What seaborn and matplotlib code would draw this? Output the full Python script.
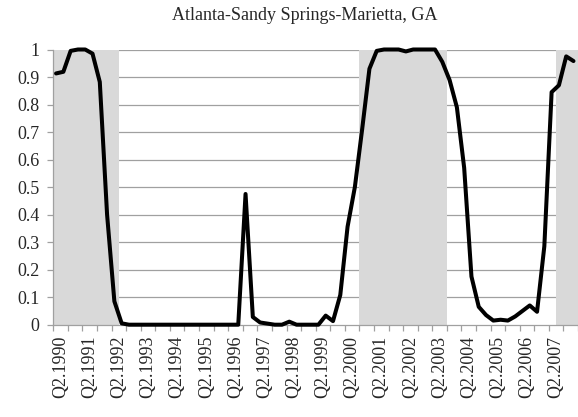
import matplotlib
matplotlib.use("Agg")
import matplotlib.pyplot as plt
import seaborn as sns
import pandas as pd
import numpy as np

# ---- data ----
years = list(range(1990, 2008))
quarters = [f"Q{q}.{y}" for y in years for q in (1, 2, 3, 4)]
values = [0.913, 0.919, 0.995, 1.0, 1.0, 0.985, 0.882, 0.40, 0.085, 0.005,
          0, 0, 0, 0, 0, 0, 0, 0, 0, 0, 0, 0, 0, 0, 0, 0,
          0.475, 0.028, 0.008, 0.004, 0.0, 0.0, 0.011, 0.0, 0.0, 0.0, 0.0,
          0.033, 0.013, 0.108, 0.356, 0.50, 0.71, 0.93, 0.995, 1.0, 1.0, 1.0,
          0.993, 1.0, 1.0, 1.0, 1.0, 0.955, 0.889, 0.79, 0.57, 0.175, 0.065,
          0.035, 0.015, 0.018, 0.015, 0.03, 0.05, 0.07, 0.047, 0.285, 0.845,
          0.87, 0.975, 0.958]
# shaded periods: (first quarter label, last quarter label)
shaded_periods = [("Q1.1990", "Q1.1992"), ("Q3.2000", "Q2.2003"), ("Q2.2007", "Q4.2007")]
tick_labels = [f"Q2.{y}" for y in years]
y_ticks = [0, 0.1, 0.2, 0.3, 0.4, 0.5, 0.6, 0.7, 0.8, 0.9, 1]
y_tick_labels = ["0", "0.1", "0.2", "0.3", "0.4", "0.5", "0.6", "0.7", "0.8", "0.9", "1"]
title = "Atlanta-Sandy Springs-Marietta, GA"

df = pd.DataFrame({"quarter": quarters, "value": values})
df["idx"] = np.arange(len(df))

sns.set_theme(style="white")
plt.rcParams["font.family"] = ["Liberation Serif", "DejaVu Serif"]

W, H = 578, 417
fig = plt.figure(figsize=(W / 100, H / 100), dpi=100)
left_px, top_px, bottom_px, right_px = 53.3, 49.5, 324.7, 578
ax = fig.add_axes([left_px / W, 1 - bottom_px / H, (right_px - left_px) / W, (bottom_px - top_px) / H])

off = -0.38  # slot boundary offset
n = len(quarters)
xmax = (right_px - left_px) / 7.32 + off
ax.set_xlim(off, xmax)
ax.set_ylim(0, 1)

grid_c = "#a0a0a0"
ax.set_yticks(y_ticks)
ax.set_yticklabels(y_tick_labels, fontsize=13)
for yv in y_ticks[1:]:
    ax.axhline(yv, color=grid_c, lw=0.9, zorder=1)

pos = {q: i for i, q in enumerate(quarters)}
for a, b in shaded_periods:
    ax.axvspan(pos[a] + off, pos[b] + 1 + off, color="#d9d9d9", lw=0, zorder=2)

sns.lineplot(data=df, x="idx", y="value", color="black", lw=2.9, ax=ax,
             zorder=5, clip_on=False, solid_joinstyle="round")

# x ticks: marks every 2 quarters, labels at Q2 of each year
ax.set_xticks([k + off for k in range(0, n + 1, 2)])
ax.set_xticklabels([])
ax.set_xticks([pos[t] + off for t in tick_labels], minor=True)
ax.set_xticklabels(tick_labels, minor=True, rotation=90, fontsize=13)
ax.tick_params(axis="x", which="major", direction="out", length=4, width=0.9,
               color=grid_c, bottom=True)
ax.tick_params(axis="x", which="minor", length=0, pad=8)
ax.tick_params(axis="y", direction="out", length=4, width=0.9, color=grid_c,
               left=True, pad=6)
ax.set_xlabel("")
ax.set_ylabel("")

for s in ["top", "right"]:
    ax.spines[s].set_visible(False)
for s in ["left", "bottom"]:
    ax.spines[s].set_color(grid_c)
    ax.spines[s].set_linewidth(0.9)
    ax.spines[s].set_zorder(3)

fig.text(305 / W, 1 - 16 / H, title, ha="center", va="center", fontsize=13)

fig.savefig("out.png", dpi=100)
